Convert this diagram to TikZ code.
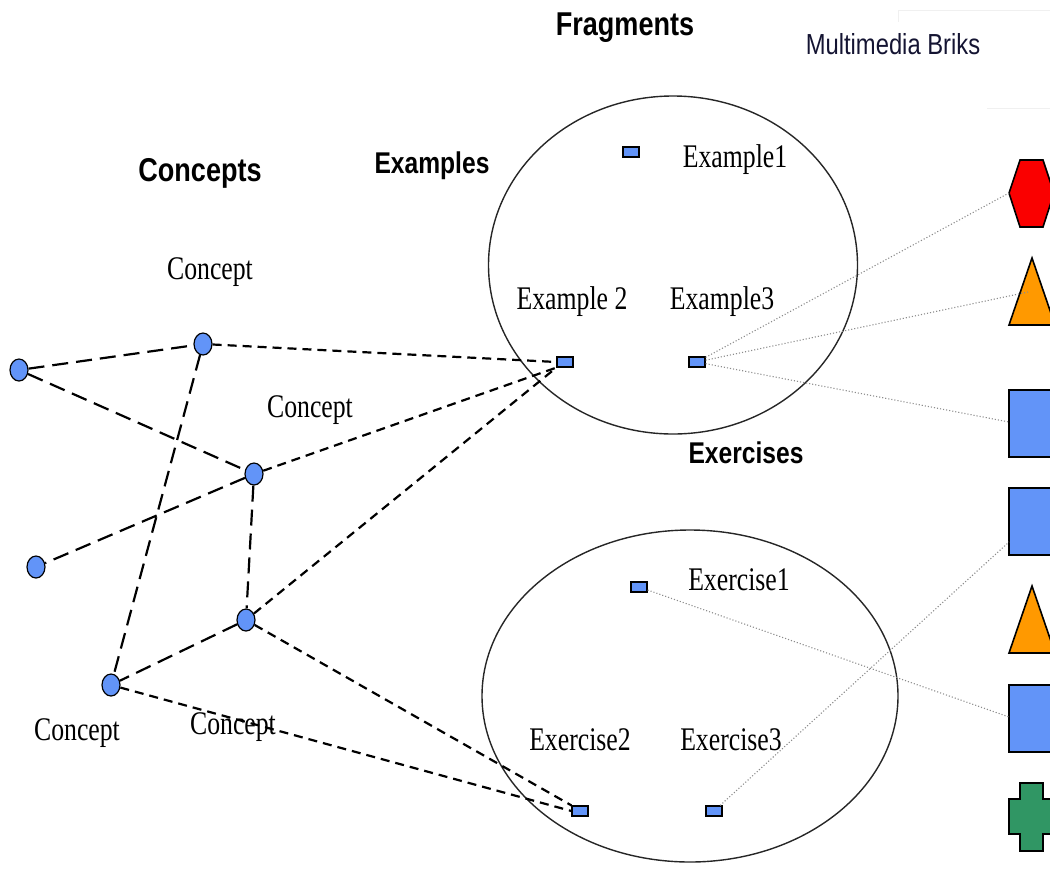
\documentclass[tikz,border=0pt]{standalone}
\usepackage{fontspec}
\usepackage{tikz}
\usetikzlibrary{shapes.geometric}
\newfontfamily\hdfont{Liberation Sans}[FakeStretch=0.82]
\newfontfamily\lblfont{Liberation Serif}[FakeStretch=0.78]
\definecolor{nodeblue}{RGB}{98,148,248}
\definecolor{brikred}{RGB}{250,0,0}
\definecolor{brikorange}{RGB}{255,153,0}
\definecolor{brikgreen}{RGB}{48,150,100}
\definecolor{briknavy}{RGB}{20,20,50}

\begin{document}
\begin{tikzpicture}[x=0.5pt,y=-0.5pt,
  concept node/.style={ellipse,draw,fill=nodeblue,line width=0.6pt,minimum width=9pt,minimum height=11pt,inner sep=0pt},
  frag node/.style={rectangle,draw,fill=nodeblue,line width=0.6pt,minimum width=8pt,minimum height=5pt,inner sep=0pt},
  heading/.style={font=\hdfont\bfseries\fontsize{15}{18}\selectfont},
  lbl/.style={font=\lblfont\fontsize{16.5}{19}\selectfont},
  brik/.style={draw=black,line width=0.8pt,line join=miter}]

  \useasboundingbox (0,0) rectangle (1050,884);

  % headings
  \node[heading,font=\hdfont\bfseries\fontsize{16.5}{19}\selectfont] (fragments) at (625,28) {Fragments};
  \node[font=\hdfont\fontsize{14.5}{17}\selectfont,text=briknavy] (briks) at (893,44) {Multimedia Briks};
  \node[heading,font=\hdfont\bfseries\fontsize{16.5}{19}\selectfont] (concepts) at (200,173) {Concepts};
  \node[heading] (examples) at (432,166) {Examples};
  \node[heading] (exercises) at (746,453) {Exercises};
  \draw[gray!12,line width=0.5pt] (898,22) -- (898,10) -- (1050,10) (987,108) -- (1050,108);

  % fragment groups
  \draw[line width=0.7pt,black!85] (673,265) ellipse [x radius=92.25pt,y radius=84.5pt];
  \draw[line width=0.7pt,black!85] (690,696) ellipse [x radius=104pt,y radius=83pt];

  % concepts
  \node[concept node] (c1) at (19,370) {};
  \node[concept node] (c2) at (203,344) {};
  \node[concept node] (c3) at (254,474) {};
  \node[concept node] (c4) at (36,567) {};
  \node[concept node] (c5) at (246,620) {};
  \node[concept node] (c6) at (111,685) {};
  \node[lbl] (l2) at (210,272) {Concept};
  \node[lbl] (l3) at (310,410) {Concept};
  \node[lbl] (l6) at (77,733) {Concept};
  \node[lbl] (l5) at (233,727) {Concept};

  % fragments
  \node[frag node] (ex1) at (631,152) {};
  \node[frag node] (ex2) at (565,362) {};
  \node[frag node] (ex3) at (697,362) {};
  \node[frag node] (exr1) at (639,587) {};
  \node[frag node] (exr2) at (580,811) {};
  \node[frag node] (exr3) at (714,811) {};
  \node[lbl] at (735,160) {Example1};
  \node[lbl] at (572,302) {Example 2};
  \node[lbl] at (722,302) {Example3};
  \node[lbl] at (739,580) {Exercise1};
  \node[lbl] at (580,740) {Exercise2};
  \node[lbl] at (731,740) {Exercise3};

  % multimedia briks
  \fill[brikred,brik] (1009,193) -- (1020,160) -- (1043,160) -- (1054,193) -- (1043,227) -- (1020,227) -- cycle;
  \fill[brikorange,brik] (1032,258) -- (1055,325) -- (1009,325) -- cycle;
  \fill[nodeblue,brik] (1009,390) rectangle (1064,457);
  \fill[nodeblue,brik] (1009,488) rectangle (1064,555);
  \fill[brikorange,brik] (1032,586) -- (1055,653) -- (1009,653) -- cycle;
  \fill[nodeblue,brik] (1009,685) rectangle (1064,752);
  \fill[brikgreen,brik] (1020,783) -- (1043,783) -- (1043,799) -- (1054,799) -- (1054,834)
    -- (1043,834) -- (1043,851) -- (1020,851) -- (1020,834) -- (1009,834) -- (1009,799)
    -- (1020,799) -- cycle;
  \coordinate (hexa) at (1009,193);
  \coordinate (tri1) at (1028,292);
  \coordinate (sq1) at (1009,422);
  \coordinate (sq2) at (1009,542);
  \coordinate (sq3) at (1009,717);

  % concept links
  \path[line width=1.1pt,dash pattern=on 8pt off 4pt]
    (c1) edge (c2)
         edge (c3)
    (c2) edge (c6)
    (c3) edge (c4)
         edge (c5)
    (c5) edge (c6);

  % concept to fragment links
  \path[line width=1.1pt,dash pattern=on 4.5pt off 3pt]
    (c2) edge (ex2.west)
    (c3) edge (ex2.south west)
    (c5) edge (ex2.south west)
         edge (exr2.north west)
    (c6) edge (exr2.west);

  % fragment to brik links
  \path[black!45,line width=0.55pt,densely dotted]
    (ex3) edge (hexa)
          edge (tri1)
          edge (sq1)
    (exr3) edge (sq2)
    (exr1) edge (sq3);
\end{tikzpicture}
\end{document}
